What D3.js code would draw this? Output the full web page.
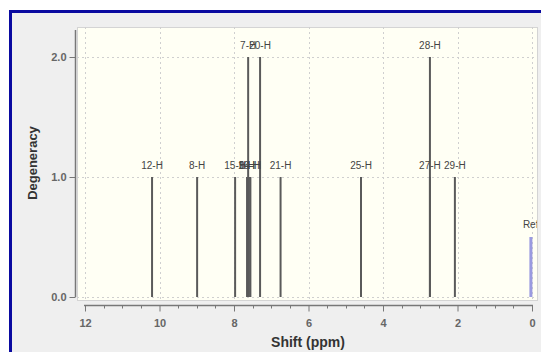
<!DOCTYPE html>
<html>
<head>
<meta charset="utf-8">
<script src="https://cdn.jsdelivr.net/npm/d3@7"></script>
<style>
  body { margin: 0; background: #fff; }
  svg { display: block; font-family: "Liberation Sans", Arial, sans-serif; }
</style>
</head>
<body>
<div id="chart"></div>
<script>
// peaks
const peakLabels = ['12-H', '8-H', '15-H', '9-H', '16-H', '14-H', '7-H', '20-H', '21-H', '25-H', '28-H', '27-H', '29-H'];
const peakShifts = [10.20, 8.99, 7.97, 7.65, 7.60, 7.56, 7.62, 7.30, 6.75, 4.59, 2.74, 2.74, 2.07];
const peakDegeneracy = [1, 1, 1, 1, 1, 1, 2, 2, 1, 1, 2, 1, 1];
const refLabel = ['Ref'];
const refShift = [0.03];
const refHeight = [0.5];
const xTicks = [12, 10, 8, 6, 4, 2, 0];
const yTicks = [0.0, 1.0, 2.0];

const W = 541, H = 352;
const plot = { left: 77, top: 27, right: 537, bottom: 300 };

const svg = d3.select('#chart').append('svg')
  .attr('width', W)
  .attr('height', H);

// blue frame, runs off the right and bottom edges
svg.append('rect')
  .attr('x', 10.5).attr('y', 11.5)
  .attr('width', 540).attr('height', 350)
  .attr('fill', '#efefef')
  .attr('stroke', '#0a0aa0')
  .attr('stroke-width', 3);

const x = d3.scaleLinear().domain([12, 0]).range([85, 532]);
const y = d3.scaleLinear().domain([0, 2.25]).range([297, 27]);

svg.append('clipPath').attr('id', 'plotClip')
  .append('rect')
  .attr('x', plot.left).attr('y', plot.top)
  .attr('width', plot.right - plot.left).attr('height', plot.bottom - plot.top);

svg.append('rect')
  .attr('x', plot.left + 0.5).attr('y', plot.top + 0.5)
  .attr('width', plot.right - plot.left).attr('height', plot.bottom - plot.top)
  .attr('fill', '#fffff4')
  .attr('stroke', '#d4d4d4');

const g = svg.append('g').attr('clip-path', 'url(#plotClip)');

// dotted grid
g.selectAll('.vgrid').data(xTicks).enter().append('line')
  .attr('class', 'vgrid')
  .attr('x1', d => Math.round(x(d)) + 0.5).attr('x2', d => Math.round(x(d)) + 0.5)
  .attr('y1', plot.top).attr('y2', plot.bottom)
  .attr('stroke', '#cfcfcf')
  .attr('stroke-dasharray', '2,3');

g.selectAll('.hgrid').data(yTicks).enter().append('line')
  .attr('class', 'hgrid')
  .attr('x1', plot.left).attr('x2', plot.right)
  .attr('y1', d => Math.round(y(d)) + 0.5).attr('y2', d => Math.round(y(d)) + 0.5)
  .attr('stroke', '#cfcfcf')
  .attr('stroke-dasharray', '2,3');

const peaks = peakLabels.map((l, i) => ({ label: l, shift: peakShifts[i], deg: peakDegeneracy[i] }));

g.selectAll('.peak').data(peaks).enter().append('line')
  .attr('class', 'peak')
  .attr('x1', d => x(d.shift)).attr('x2', d => x(d.shift))
  .attr('y1', y(0)).attr('y2', d => y(d.deg))
  .attr('stroke', '#5a5a5a')
  .attr('stroke-width', 2);

g.selectAll('.plabel').data(peaks).enter().append('text')
  .attr('class', 'plabel')
  .attr('x', d => x(d.shift))
  .attr('y', d => y(d.deg) - 8)
  .attr('text-anchor', 'middle')
  .attr('font-size', 10)
  .attr('fill', '#444')
  .text(d => d.label);

const refs = refLabel.map((l, i) => ({ label: l, shift: refShift[i], h: refHeight[i] }));

g.selectAll('.ref').data(refs).enter().append('line')
  .attr('class', 'ref')
  .attr('x1', d => x(d.shift)).attr('x2', d => x(d.shift))
  .attr('y1', y(0)).attr('y2', d => y(d.h))
  .attr('stroke', '#9a9ae0')
  .attr('stroke-width', 3);

g.selectAll('.rlabel').data(refs).enter().append('text')
  .attr('class', 'rlabel')
  .attr('x', d => x(d.shift) - 8)
  .attr('y', d => y(d.h) - 9)
  .attr('font-size', 10)
  .attr('fill', '#444')
  .text(d => d.label);

// y axis
const yAxis = svg.append('g')
  .attr('transform', 'translate(75.5,0)')
  .call(d3.axisLeft(y).tickValues(yTicks).tickFormat(d3.format('.1f')).tickSize(6).tickSizeOuter(0));
yAxis.select('.domain').attr('d', 'M0,30V297').attr('stroke', '#777').attr('stroke-width', 1.5);
yAxis.selectAll('.tick line').attr('stroke', '#777');
yAxis.selectAll('.tick text')
  .attr('font-size', 11).attr('font-weight', 'bold').attr('fill', '#666')
  .attr('font-family', '"Liberation Sans", Arial, sans-serif');

svg.append('text')
  .attr('transform', 'translate(37,163) rotate(-90)')
  .attr('text-anchor', 'middle')
  .attr('font-size', 13)
  .attr('font-weight', 'bold')
  .attr('fill', '#333')
  .text('Degeneracy');

// x axis, ticks hang below the line
const xAxis = svg.append('g')
  .attr('transform', 'translate(0,305.5)')
  .call(d3.axisBottom(x).tickValues(xTicks).tickFormat(d3.format('d')).tickSize(6).tickSizeOuter(0));
xAxis.select('.domain').attr('d', 'M84,0H533').attr('stroke', '#777').attr('stroke-width', 1.5);
xAxis.selectAll('.tick line').attr('stroke', '#777');
xAxis.selectAll('.tick text')
  .attr('font-size', 11).attr('font-weight', 'bold').attr('fill', '#666')
  .attr('font-family', '"Liberation Sans", Arial, sans-serif')
  .attr('dy', '1.1em');

const minor = d3.range(0, 12.01, 0.5).filter(v => v % 2 !== 0);
xAxis.selectAll('.minor').data(minor).enter().append('line')
  .attr('class', 'minor')
  .attr('x1', d => Math.round(x(d)) + 0.5).attr('x2', d => Math.round(x(d)) + 0.5)
  .attr('y1', 0).attr('y2', 3)
  .attr('stroke', '#777');

svg.append('text')
  .attr('x', 308).attr('y', 347)
  .attr('text-anchor', 'middle')
  .attr('font-size', 14)
  .attr('font-weight', 'bold')
  .attr('fill', '#333')
  .text('Shift (ppm)');
</script>
</body>
</html>
